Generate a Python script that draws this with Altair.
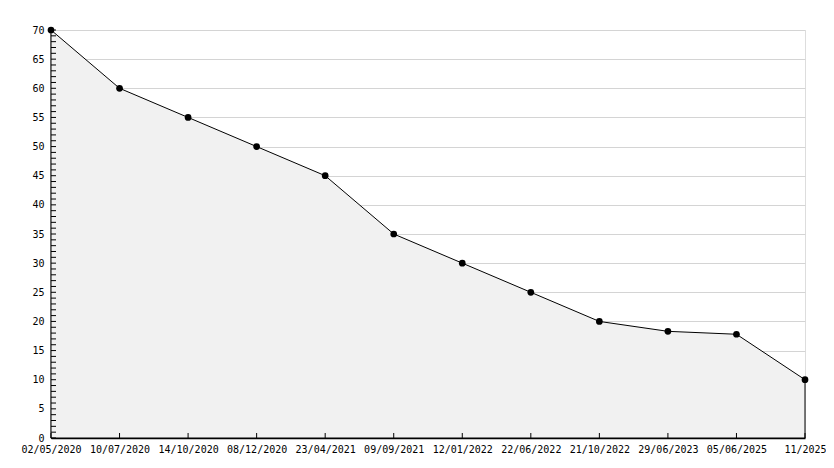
import altair as alt
import pandas as pd

dates = ["02/05/2020", "10/07/2020", "14/10/2020", "08/12/2020", "23/04/2021",
         "09/09/2021", "12/01/2022", "22/06/2022", "21/10/2022", "29/06/2023",
         "05/06/2025", "11/2025"]
values = [70, 60, 55, 50, 45, 35, 30, 25, 20, 18.3, 17.8, 10]
y_minor = list(range(0, 71))
y_major = list(range(0, 71, 5))

df = pd.DataFrame({"date": dates, "value": values})
minor_df = pd.DataFrame({"v": y_minor})

W, H = 754, 408
FONT = "DejaVu Sans Mono"

xscale = alt.Scale(type="point", padding=0, domain=dates)
yscale = alt.Scale(domain=[0, 70], nice=False, zero=True)

xaxis = alt.Axis(title=None, labelAngle=0, tickSize=0, grid=False,
                 domainColor="black", domainWidth=1.5,
                 labelFont=FONT, labelFontSize=10, labelColor="black",
                 labelPadding=6, labelOverlap=False, labelBound=False,
                 labelFlush=False)
yaxis = alt.Axis(title=None, values=y_major, tickSize=0, grid=True,
                 gridColor="#d4d4d4", gridWidth=1,
                 domainColor="black", domainWidth=1.5,
                 labelFont=FONT, labelFontSize=10, labelColor="black",
                 labelPadding=7, labelBound=False, labelFlush=False)

base = alt.Chart(df)

area = base.mark_area(fill="#f1f1f1", stroke="black", strokeWidth=1).encode(
    x=alt.X("date:N", sort=dates, scale=xscale, axis=xaxis),
    y=alt.Y("value:Q", scale=yscale, axis=yaxis),
)

points = base.mark_point(filled=True, shape="circle", size=45, color="black", opacity=1).encode(
    x=alt.X("date:N", sort=dates, scale=xscale, axis=xaxis),
    y=alt.Y("value:Q", scale=yscale, axis=yaxis),
)

xticks = base.mark_rule(color="black", strokeWidth=1).encode(
    x=alt.X("date:N", sort=dates, scale=xscale, axis=xaxis),
    y=alt.value(H),
    y2=alt.value(H - 5),
)

yticks = alt.Chart(minor_df).mark_rule(color="black", strokeWidth=1).encode(
    y=alt.Y("v:Q", scale=yscale, axis=yaxis),
    x=alt.value(0),
    x2=alt.value(5),
)

chart = alt.layer(area, yticks, xticks, points).properties(
    width=W, height=H,
    autosize=alt.AutoSizeParams(type="none"),
    padding={"left": 43, "top": 22, "right": 21, "bottom": 22},
).configure_view(stroke=None).configure(background="white")

chart.save("out.html", embed_options={"renderer": "svg", "actions": False})
